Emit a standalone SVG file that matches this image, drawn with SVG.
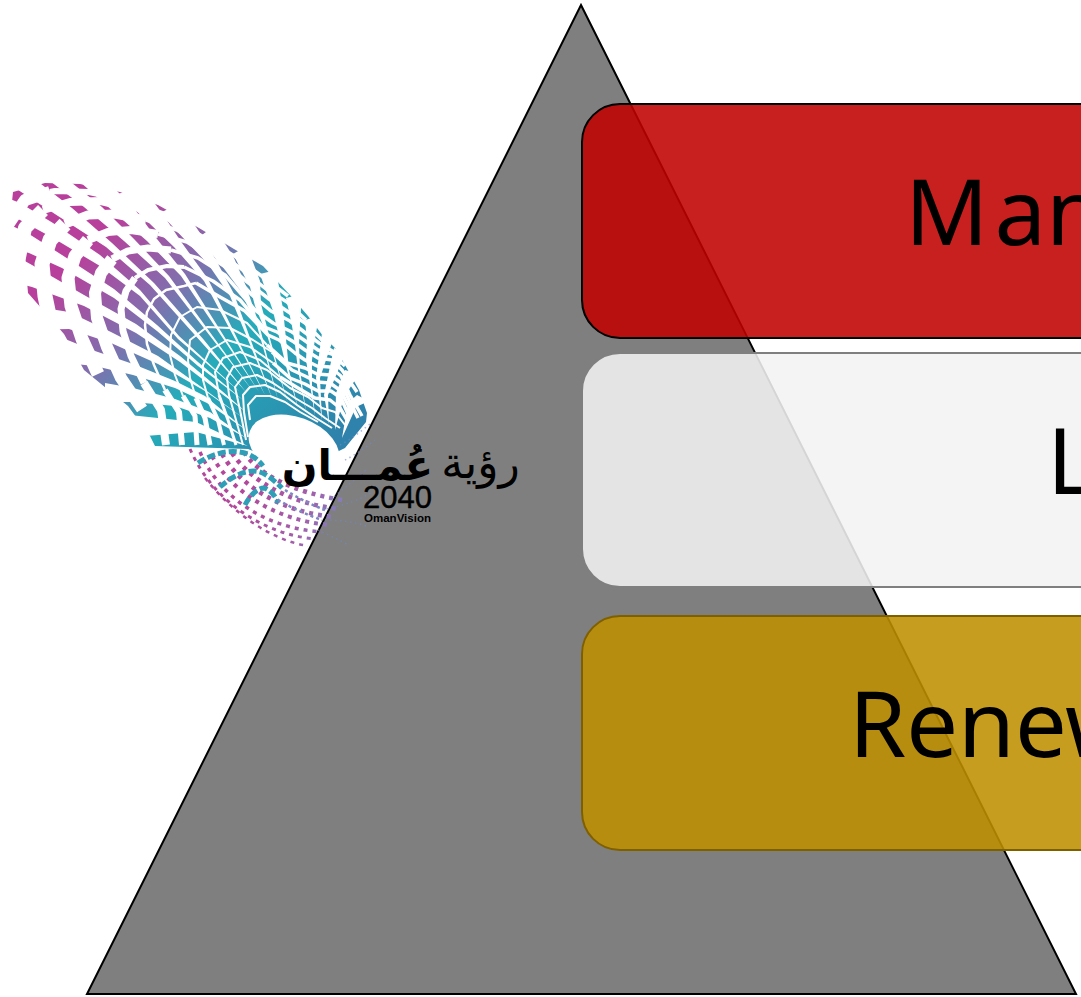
<svg xmlns="http://www.w3.org/2000/svg" width="1081" height="997" viewBox="0 0 1081 997">
<style>
.bar{fill-opacity:.88;stroke-width:2}
.lbl{font-family:"Noto Sans","Open Sans",sans-serif;font-size:92px;fill:#000}
.ar{font-family:"DejaVu Sans",sans-serif;fill:#000;text-anchor:middle}
.gap{fill:none;stroke:#000;stroke-linejoin:round}
.fine{stroke-width:2}
.rr{stroke-width:3.5}
.dots{fill:none;stroke:url(#dotg);stroke-dasharray:4 5}
.streak{fill:none;stroke:#2f9fb8;stroke-width:5;stroke-dasharray:8 3}
.lil{fill:none;stroke:#7f86c4;stroke-width:2.5;stroke-dasharray:3 3}
.faint{fill:none;stroke:#7388c8;stroke-width:1.5;stroke-dasharray:1.5 3.5;opacity:.6}
</style>
<defs>
<linearGradient id="tile" gradientUnits="userSpaceOnUse" x1="0" y1="0" x2="400" y2="400">
<stop offset=".42" stop-color="#b8409c"/><stop offset=".58" stop-color="#7f70ae"/><stop offset=".72" stop-color="#25acba"/><stop offset=".97" stop-color="#2e82ab"/>
</linearGradient>
<linearGradient id="dotg" gradientUnits="userSpaceOnUse" x1="200" y1="470" x2="345" y2="520">
<stop offset=".3" stop-color="#b2479b"/><stop offset=".75" stop-color="#a160ab"/><stop offset="1" stop-color="#7f86c4"/>
</linearGradient>
<mask id="m" maskUnits="userSpaceOnUse" x="0" y="170" width="400" height="300">
<polygon fill="#fff" points="248,449 155,446 150,436 128,406 84,370 64,334 28,293 25,256 10,221 13,192 45,183 80,184 120,192 158,205 199,228 234,249 263,266 290,295 308,316 323,336 336,349 345,365 359,390 367,413 366,422 345,448 300,470"/>
<g class="gap">
<polyline stroke-width="12" points="8,225 25,200 50,192"/>
<polyline stroke-width="6" points="50,192 55,191 89,192 126,200"/>
<polyline stroke-width="14" points="18,262 25,228 43,210"/>
<polyline stroke-width="8" points="43,210 70,202 101,201 135,209"/>
<polyline stroke-width="15" points="50,320 45,296 42,264 50,240 65,224"/>
<polyline stroke-width="9" points="65,224 88,215 115,214 146,220"/>
<polyline stroke-width="13" points="98,374 82,339 71,306 68,278 75,256 88,240"/>
<polyline stroke-width="8" points="88,240 108,232 131,230 158,234"/>
<polyline stroke-width="12" points="142,409 121,378 107,347 97,318 95,293 101,273 112,259"/>
<polyline stroke-width="7" points="112,259 128,251 148,248 171,250"/>
<polyline stroke-width="8" points="166,445 161,410 144,383"/>
<polyline stroke-width="7" points="144,383 131,356 123,331 121,309 126,291 135,278"/>
<polyline stroke-width="4" points="135,278 148,270 167,266 184,267"/>
<polyline stroke-width="6" points="182,445 179,412 165,390"/>
<polyline stroke-width="2.5" points="165,390 154,365 147,344 145,325 147,312 154,299 166,290 184,286 196,283"/>
<polyline stroke-width="5" points="197,445 195,416 183,396"/>
<polyline stroke-width="5" points="210,445 205,418 196,398"/>
<polyline stroke-width="4" points="224,445 218,420 208,398"/>
<polyline stroke-width="3" points="236,445 228,420 219,395"/>
<polyline class="rr" points="126,200 163,213 202,236 236,257 263,277 288,296"/>
<polyline class="rr" points="135,209 169,220 209,245 240,268 266,289 287,302 306,320"/>
<polyline class="rr" points="146,220 177,230 218,256 246,281 269,299 287,311 305,323 322,340"/>
<polyline class="rr" points="158,234 187,242 227,268 252,295 271,311 290,321 303,331 319,343 334,352"/>
<polyline class="rr" points="171,250 198,258 225,275 255,310 273,323 292,332 304,340 318,350 332,354 345,366"/>
<polyline class="rr" points="184,267 213,281 240,300 262,326 277,332 294,342 305,350 318,358 332,360 342,370 357,392"/>
<polyline class="rr" points="196,283 220,297 245,311 268,335 279,340 295,353 305,360 317,366 330,367 341,376 350,395 362,416"/>
<polyline class="fine" points="183,396 175,375 170,355 171,335 180,317 197,307 220,310 247,323 267,345"/>
<polyline class="rr" points="267,345 287,363 305,368 317,374 330,375 341,383 350,402 358,418"/>
<polyline class="fine" points="196,398 190,378 188,360 190,340 207,327 230,328 253,340 272,352"/>
<polyline class="rr" points="272,352 292,370 305,376 317,382 330,383 341,391 350,409"/>
<polyline class="fine" points="208,398 203,380 203,365 210,350 227,340 250,347 273,363"/>
<polyline class="rr" points="273,363 290,378 305,384 318,391 331,391 341,398 348,414"/>
<polyline class="fine" points="219,395 215,372 223,358 240,352 260,360 280,377"/>
<polyline class="rr" points="280,377 298,388 315,398 330,400 340,408 347,420"/>
<polyline class="fine" points="243,445 236,420 229,395 227,378 233,367 250,363 267,370 290,388 308,397 322,408 335,412 345,425"/>
<polyline class="fine" points="246,440 240,410 235,387 242,378 257,375 273,383 295,398 312,408 325,418 340,428"/>
<polyline class="fine" points="248,437 244,412 243,395 250,387 265,385 280,392 297,405 316,418 332,428"/>
<polyline class="fine" points="250,420 248,405 256,396 270,396 285,402 300,412 318,422"/>
</g>
<g fill="#000">
<polygon points="120,414 196,422 248,446 196,432 120,438"/>
<polygon points="105,383 133,388 175,399 210,412 246,438 210,418 175,406 133,402 105,402"/>
<polygon points="55,335 95,351 133,364 175,381 205,396 246,430 207,403 175,388 133,375 95,366 55,362"/>
<polygon points="25,305 69,312 111,332 158,356 200,386 246,420 205,391 158,364 111,343 69,329 25,330"/>
<polygon points="5,250 32,265 84,295 136,324 180,356 222,391 246,412 222,394 180,362 136,333 84,306 32,287 5,280"/>
<polygon points="0,220 29,234 62,255 114,289 157,325 198,362 243,400 198,366 157,331 114,298 62,268 29,253 0,245"/>
<polygon points="0,195 20,203 53,223 100,255 140,290 179,336 240,392 178,339 140,296 100,266 53,238 20,220 0,212"/>
<polygon points="12,186 58,216 106,247 150,285 246,392 204,340 154,283 112,243 72,208 32,177"/>
<polygon points="42,175 84,207 124,241 165,278 252,390 169,276 134,239 102,207 62,175"/>
<polygon points="79,181 115,213 147,241 181,276 259,392 185,274 157,239 133,207 101,175"/>
<polygon points="118,194 148,222 174,247 204,281 265,395 208,279 182,243 164,216 142,186"/>
<polygon points="160,213 186,241 208,264 230,296 272,398 234,294 216,260 200,233 180,203"/>
<polygon points="198,238 222,266 240,290 257,326 278,400 259,324 246,286 234,258 214,226"/>
<polygon points="233,254 250,287 255,306 267,335 288,404 269,335 261,304 260,281 247,246"/>
<polygon points="260,274 273,311 280,341 287,370 298,408 289,370 286,339 283,309 276,270"/>
<polygon points="286,298 292,326 295,345 298,370 306,412 300,370 299,345 300,324 302,294"/>
<polygon points="305,320 307,341 306,360 310,385 315,416 312,385 312,360 315,339 319,316"/>
<polygon points="322,333 319,355 316,378 322,420 320,378 327,357 334,337"/>
<polygon points="334,348 329,371 324,395 329,424 328,395 337,373 346,352"/>
<polygon points="345,370 336,393 335,430 344,397 359,374"/>
<polygon points="357,395 348,403 342,438 356,407 369,401"/>
<ellipse cx="294" cy="447" rx="47" ry="30" transform="rotate(20 294 447)"/>
</g>
</mask>
</defs>
<g id="triangle"><polygon points="581,5 1076,994 87,994" fill="#7f7f7f" stroke="#000" stroke-width="2"/></g>
<g id="logo">
<rect x="0" y="170" width="400" height="300" fill="url(#tile)" mask="url(#m)"/>
<path class="dots" stroke-width="4.5" d="M244 452C258 474 292 492 342 500"/>
<path class="dots" stroke-width="4.5" d="M232 453C250 480 288 503 338 509"/>
<path class="dots" stroke-width="4.5" d="M222 454C240 486 282 512 334 517"/>
<path class="dots" stroke-width="4" d="M212 456C232 492 275 520 329 525"/>
<path class="dots" stroke-width="3.5" d="M200 452C220 498 265 528 322 532"/>
<path class="dots" stroke-width="3" d="M190 449C212 500 262 534 315 539"/>
<path class="dots" stroke-width="2.5" d="M205 478C232 512 270 540 308 546"/>
<path class="streak" d="M198 463C212 454 232 447 250 455C256 458 260 462 263 466"/>
<path class="streak" d="M220 487C232 476 248 468 260 472C268 475 276 482 282 488"/>
<path class="streak" d="M245 505C250 495 258 488 264 488C270 490 276 496 278 503"/>
<path class="lil" d="M285 490C298 498 312 505 325 510"/>
<path class="lil" d="M278 500C292 508 310 516 322 520"/>
<path class="faint" d="M330 500C342 490 352 482 366 470"/>
<path class="faint" d="M322 510C345 505 360 500 372 492"/>
<path class="faint" d="M325 520C340 520 355 522 366 526"/>
<path class="faint" d="M318 530C328 535 340 540 348 545"/>
<path class="faint" d="M340 445C350 440 360 432 370 424"/>
<path class="faint" d="M345 460C355 455 365 448 375 440"/>
<text class="ar" x="357.5" y="480" font-size="42" font-weight="bold" direction="rtl">عُمـــان</text>
<text class="ar" x="480.5" y="478" font-size="44" direction="rtl">رؤية</text>
<text x="363" y="508" font-family="'Liberation Sans',sans-serif" font-size="32" textLength="69" lengthAdjust="spacingAndGlyphs" stroke="#000" stroke-width=".4" fill="#000">2040</text>
<text x="364" y="522" font-family="'Liberation Sans',sans-serif" font-size="11" font-weight="bold" textLength="67" lengthAdjust="spacingAndGlyphs" fill="#000">OmanVision</text>
</g>
<g id="bar-red"><rect class="bar" x="582" y="104" width="560" height="234" rx="38" fill="#c00000" stroke="#000"/><text class="lbl" x="905" y="245">M<tspan dx="6">an</tspan></text></g>
<g id="bar-grey"><rect class="bar" x="582" y="353" width="560" height="234" rx="38" fill="#f2f2f2" stroke="#7f7f7f"/><text class="lbl" x="1047" y="494">L</text></g>
<g id="bar-gold"><rect class="bar" x="582" y="616" width="560" height="234" rx="38" fill="#bf9000" stroke="#7f6000"/><text class="lbl" x="849" y="757">Renew</text></g>
</svg>
